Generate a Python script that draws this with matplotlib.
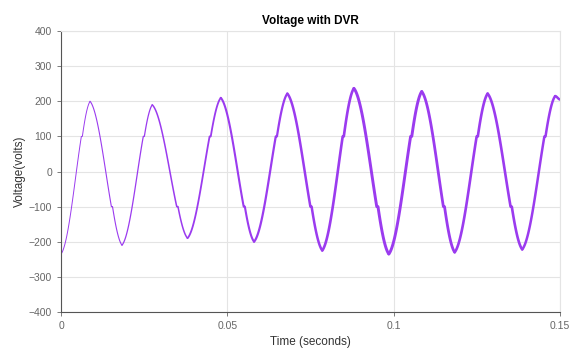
#!/usr/bin/env python3
"""Voltage with DVR - waveform recreated from its read-off extrema."""

import numpy as np
import matplotlib
matplotlib.use("Agg")
import matplotlib.pyplot as plt
from matplotlib.collections import LineCollection

plt.rcParams["font.family"] = ["Liberation Sans", "DejaVu Sans"]

# extrema of the waveform (time in s, voltage in V)
ext_t = [0.0, 0.0087, 0.0183, 0.0274, 0.0380, 0.0480, 0.0580, 0.0680,
         0.0785, 0.0880, 0.0985, 0.1084, 0.1183, 0.1282, 0.1386, 0.1485, 0.15]
ext_v = [-235, 200, -210, 190, -190, 210, -200, 222,
         -225, 237, -235, 228, -230, 222, -222, 215, 205]
# apparent trace thickness (points) for each half cycle
band_w = [0.7, 0.8, 0.9, 1.1, 1.3, 1.5, 1.6, 1.8,
          1.9, 2.1, 2.1, 2.0, 1.9, 1.9, 1.8, 1.8]
step_level = 100  # small flat shoulders near +/-100 V

x_ticks = [0, 0.05, 0.1, 0.15]
x_labels = ["0", "0.05", "0.1", "0.15"]
y_ticks = list(range(-400, 401, 100))


def half_cycle(ta, va, tb, vb, n=300):
    # rounded-triangle swing from va to vb with a short hold at the step level
    t = np.linspace(ta, tb, n)
    u = (t - ta) / (tb - ta)
    lvl = step_level if vb > va else -step_level
    lvl = min(max(lvl, min(va, vb) + 1), max(va, vb) - 1)
    frac = (lvl - va) / (vb - va)
    # shape = 0.75 * cosine + 0.25 * linear; find where it reaches frac
    grid = np.linspace(0, 1, 2001)
    shape = 0.75 * (1 - np.cos(np.pi * grid)) / 2 + 0.25 * grid
    us = np.interp(frac, shape, grid)
    hold = 0.035
    s = np.interp(u, [0, us, us + hold, 1], [0, us, us, 1])
    f = 0.75 * (1 - np.cos(np.pi * s)) / 2 + 0.25 * s
    return t, va + (vb - va) * f


segs, widths = [], []
for i in range(len(ext_t) - 1):
    t, v = half_cycle(ext_t[i], ext_v[i], ext_t[i + 1], ext_v[i + 1])
    segs.append(np.column_stack([t, v]))
    widths.append(band_w[i])

fig = plt.figure(figsize=(5.71, 3.54), dpi=100)
ax = fig.add_axes([0.107, 0.119, 0.874, 0.793])

lc = LineCollection(segs, linewidths=widths, colors="#9b3bef",
                    capstyle="round", joinstyle="round")
ax.add_collection(lc)

ax.set_xlim(0, 0.15)
ax.set_ylim(-400, 400)
ax.set_xticks(x_ticks)
ax.set_xticklabels(x_labels)
ax.set_yticks(y_ticks)
ax.grid(True, color="#e4e4e4", linewidth=0.8)
ax.set_axisbelow(True)

for side in ["top", "right"]:
    ax.spines[side].set_color("#e4e4e4")
for side in ["left", "bottom"]:
    ax.spines[side].set_color("#555555")
ax.tick_params(labelsize=7.5, colors="#666666", length=3, width=0.6,
               top=False, right=False)

ax.set_title("Voltage with DVR", fontsize=8.5, fontweight="bold", pad=5)
ax.set_xlabel("Time (seconds)", fontsize=8.5, color="#333333", labelpad=4)
ax.set_ylabel("Voltage(volts)", fontsize=8.5, color="#333333", labelpad=2)

fig.savefig("out.png", dpi=100)
